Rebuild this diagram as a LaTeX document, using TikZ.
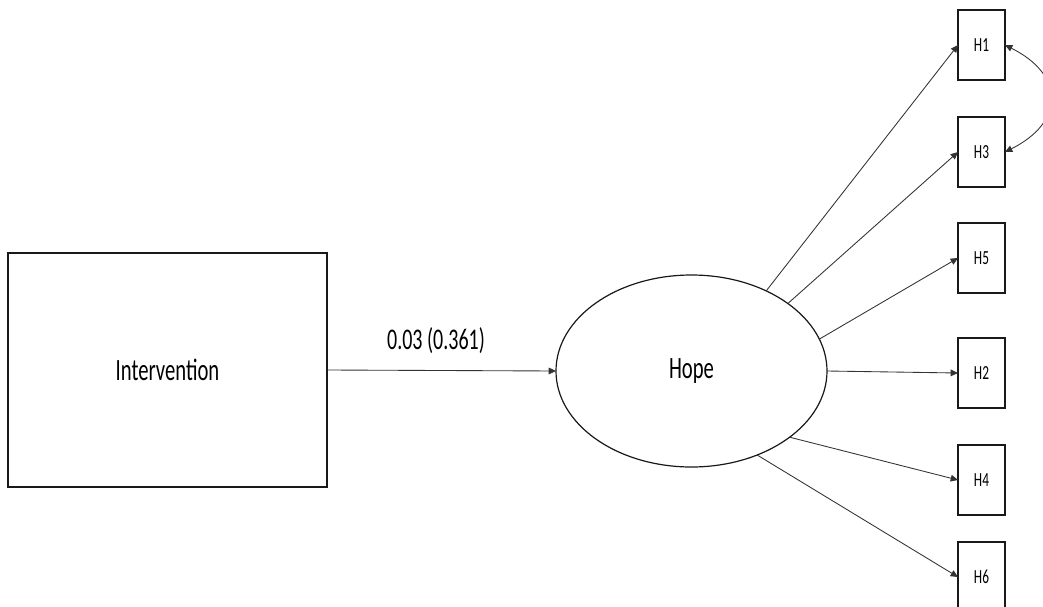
\documentclass[tikz,border=0pt]{standalone}
\usepackage{fontspec}
\setmainfont{Carlito}
\usepackage{graphicx}
\usetikzlibrary{shapes.geometric,arrows.meta}
\newcommand\tallt[1]{\scalebox{1}[1.5]{#1}}
\begin{document}
\begin{tikzpicture}[x=0.75pt,y=-0.75pt,
  hbox/.style={draw=black!90,line width=0.9pt,minimum width=35.25pt,minimum height=52.5pt,inner sep=0pt,outer sep=0pt,font=\fontsize{10}{12}\selectfont,text=black},
  bigbox/.style={draw=black!90,line width=1pt,minimum width=239.25pt,minimum height=175.5pt,inner sep=0pt,outer sep=0pt,font=\fontsize{15.5}{18}\selectfont,text=black},
  latent/.style={ellipse,draw=black!90,line width=0.9pt,minimum width=203.25pt,minimum height=144pt,inner sep=0pt,outer sep=0pt,font=\fontsize{15.5}{18}\selectfont,text=black},
  lbl/.style={font=\fontsize{15}{18}\selectfont,text=black,inner sep=0pt},
  conn/.style={draw=black!80,line width=0.65pt,-{Triangle[length=5.5pt,width=5pt]}},
  corr/.style={draw=black!80,line width=0.65pt,{Triangle[length=5.5pt,width=5pt]}-{Triangle[length=5.5pt,width=5pt]}}
]
\clip (0,0) rectangle (1043,607);
\node[bigbox] (int) at (167.5,370) {\tallt{Intervention}};
\node[latent] (hope) at (691.5,371) {\tallt{Hope}};
\node[lbl] (lab) at (436,341) {\tallt{0.03 (0.361)}};
\node[hbox] (h1) at (981.5,45) {\tallt{H1}};
\node[hbox] (h3) at (981.5,152) {\tallt{H3}};
\node[hbox] (h5) at (981.5,258) {\tallt{H5}};
\node[hbox] (h2) at (981.5,373) {\tallt{H2}};
\node[hbox] (h4) at (981.5,480) {\tallt{H4}};
\node[hbox] (h6) at (981.5,577) {\tallt{H6}};
\draw[conn] (int.east) -- (hope.west);
\draw[conn] (hope.47) -- (h1.west);
\draw[conn] (hope.35.3) -- (h3.west);
\draw[conn] (hope.14.3) -- (h5.west);
\draw[conn] (hope.0) -- (h2.west);
\draw[conn] (hope.-34.6) -- (h4.west);
\draw[conn] (hope.-52.7) -- (h6.west);
\draw[corr] (h1.east) .. controls +(60,30) and +(60,-30) .. (h3.east);
\end{tikzpicture}
\end{document}
